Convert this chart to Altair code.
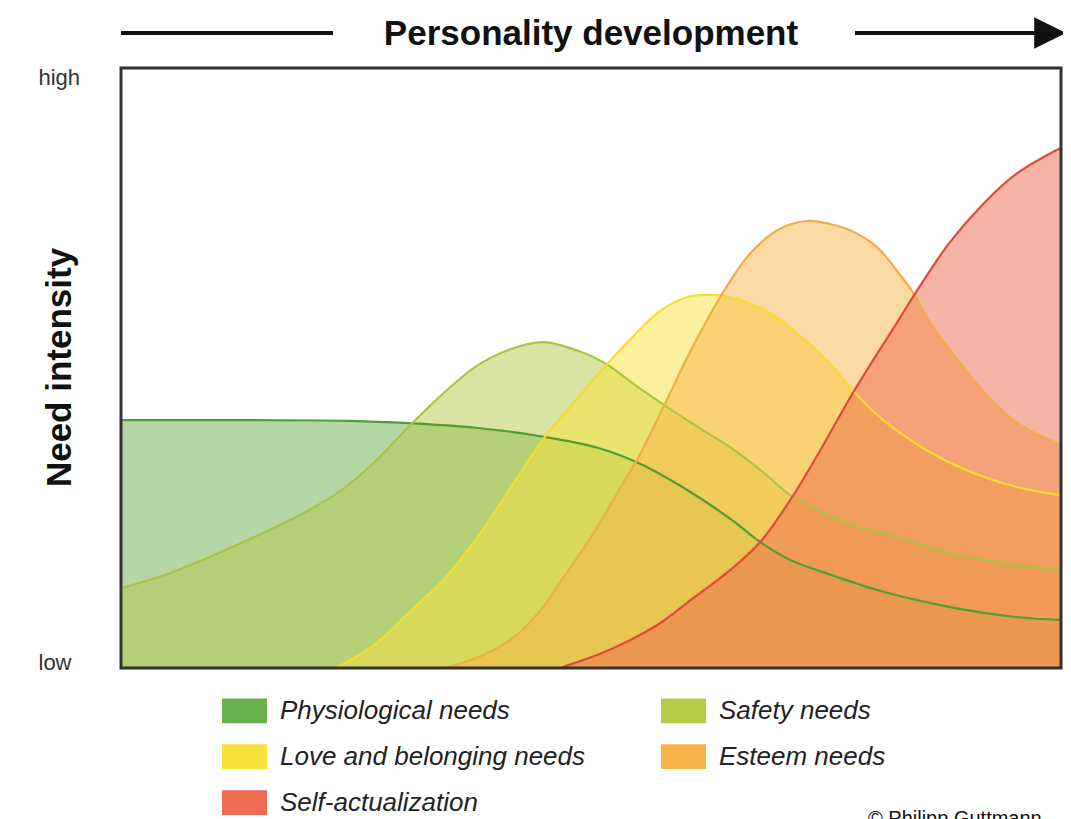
import altair as alt
import pandas as pd

# ---- categories & styling ----
needs = ["Physiological needs", "Safety needs", "Love and belonging needs",
         "Esteem needs", "Self-actualization"]
fill_colors = ["#6ab04c", "#b5cc4a", "#f7e23c", "#f7b44a", "#ee6a50"]
line_colors = ["#4e9e36", "#a9c445", "#f6dc2c", "#efae45", "#de4b3b"]

# ---- series (x: development 0-100, y: intensity 0-100) ----
physio_x = [0, 13.7, 24.3, 30.6, 38.0, 45.1, 50.7, 55.0, 58.5, 62.4, 65.3, 68.0,
            71.2, 74.1, 81.1, 88.1, 95.2, 100]
physio_y = [41.3, 41.3, 41.2, 40.8, 40.0, 38.5, 36.7, 34.2, 31.3, 27.5, 24.3, 21.0,
            18.0, 16.3, 12.7, 10.2, 8.5, 8.0]

safety_x = [0, 5.2, 9.4, 14.7, 20.0, 23.5, 27.1, 30.6, 34.1, 37.7, 41.2, 44.9, 48.9,
            51.5, 55.0, 57.8, 61.3, 64.8, 68.4, 71.2, 74.1, 78.3, 81.1, 88.1, 95.2, 100]
safety_y = [13.3, 15.8, 18.5, 22.2, 26.3, 29.7, 34.5, 40.2, 45.5, 50.2, 53.0, 54.3, 52.7,
            50.8, 46.8, 43.8, 40.2, 36.8, 32.5, 28.8, 26.3, 23.5, 22.5, 19.2, 17.2, 16.3]

love_x = [22.9, 26.9, 30.6, 34.3, 37.7, 41.2, 45.1, 48.6, 51.8, 54.5, 57.1, 60.0, 62.1,
          64.8, 68.4, 71.9, 75.4, 78.0, 81.1, 85.7, 89.9, 95.2, 100]
love_y = [0, 3.8, 9.2, 14.7, 21.3, 29.5, 38.5, 45.0, 50.8, 55.3, 59.2, 61.7, 62.2,
          61.8, 59.7, 55.8, 50.8, 46.0, 41.3, 36.3, 33.0, 30.2, 28.8]

esteem_x = [34.3, 38.0, 41.7, 44.7, 46.5, 50.0, 53.6, 55.0, 57.8, 60.0, 62.1, 64.2, 67.0,
            70.1, 73.0, 75.4, 77.5, 80.4, 82.5, 84.3, 86.4, 89.2, 92.8, 96.0, 100]
esteem_y = [0, 1.8, 5.0, 9.7, 13.8, 21.8, 31.3, 35.0, 43.8, 51.0, 57.3, 63.0, 69.2,
            73.2, 74.5, 74.0, 73.0, 70.2, 66.3, 62.5, 56.8, 51.0, 44.3, 40.2, 37.2]

selfact_x = [46.7, 50.7, 53.6, 57.1, 60.6, 64.8, 68.0, 71.2, 74.1, 78.0, 82.2, 84.6,
             88.1, 91.7, 95.2, 100]
selfact_y = [0, 2.2, 4.2, 7.2, 11.3, 16.3, 21.0, 28.0, 35.5, 46.2, 56.7, 62.7,
             70.8, 77.3, 82.3, 86.7]

series_x = [physio_x, safety_x, love_x, esteem_x, selfact_x]
series_y = [physio_y, safety_y, love_y, esteem_y, selfact_y]

FONT = "Liberation Sans"
W, H = 940, 600

xscale = alt.Scale(domain=[0, 100], nice=False, zero=False)
yscale = alt.Scale(domain=[0, 100], nice=False)
cscale = alt.Scale(domain=needs, range=fill_colors)

yaxis = alt.Axis(
    values=[1, 98.5],
    labelExpr="datum.value > 50 ? 'high' : 'low'",
    title="Need intensity",
    titleFont=FONT, titleFontSize=35, titleFontWeight="bold", titleColor="#111",
    titleAngle=-90, titleX=-62, titleY=299, titleAlign="center", titleBaseline="middle",
    domain=False, ticks=False, tickSize=0, grid=False,
    labelAlign="left", labelPadding=83, labelFontSize=22, labelColor="#333",
    labelFont=FONT,
)

legend = alt.Legend(
    title=None, orient="none", legendX=101, legendY=620, columns=2,
    direction="horizontal",
    symbolType="M-1,-0.55L1,-0.55L1,0.55L-1,0.55Z", symbolSize=2025,
    symbolStrokeWidth=0, symbolOpacity=1,
    labelFont=FONT, labelFontSize=26, labelFontStyle="italic", labelColor="#222",
    labelOffset=13, rowPadding=10, columnPadding=75, padding=0, labelLimit=0,
)

areas = []
lines = []
for i, name in enumerate(needs):
    df = pd.DataFrame({"dev": series_x[i], "intensity": series_y[i], "need": name})
    areas.append(
        alt.Chart(df).mark_area(interpolate="catmull-rom", fillOpacity=0.5,
                                strokeWidth=0, clip=True)
        .encode(
            x=alt.X("dev:Q", scale=xscale, axis=None),
            y=alt.Y("intensity:Q", scale=yscale, axis=yaxis),
            color=alt.Color("need:N", scale=cscale, legend=legend),
        )
    )
    lines.append(
        alt.Chart(df).mark_line(interpolate="catmull-rom", strokeWidth=2.2,
                                color=line_colors[i], clip=True)
        .encode(x=alt.X("dev:Q", scale=xscale), y=alt.Y("intensity:Q", scale=yscale))
    )

one = pd.DataFrame({"k": [0]})
border = alt.Chart(one).mark_rect(fillOpacity=0, stroke="#333", strokeWidth=3).encode(
    x=alt.value(0), x2=alt.value(W), y=alt.value(0), y2=alt.value(H))
rule_left = alt.Chart(one).mark_rule(strokeWidth=4, color="#111").encode(
    x=alt.value(0), x2=alt.value(212), y=alt.value(-35))
rule_right = alt.Chart(one).mark_rule(strokeWidth=4, color="#111").encode(
    x=alt.value(734), x2=alt.value(920), y=alt.value(-35))
arrow = alt.Chart(one).mark_point(
    shape="M-1,-1L1,0L-1,1Z", size=1000, filled=True, color="#111", opacity=1
).encode(x=alt.value(929), y=alt.value(-35))
title_txt = alt.Chart(one).mark_text(
    text="Personality development", align="center", baseline="alphabetic",
    fontSize=35, fontWeight="bold", font=FONT, color="#111"
).encode(x=alt.value(470), y=alt.value(-23))
copyright_txt = alt.Chart(one).mark_text(
    text="© Philipp Guttmann", align="left", baseline="middle", fontSize=20,
    font=FONT, color="#111"
).encode(x=alt.value(747), y=alt.value(751))

chart = alt.layer(
    *areas, *lines, border, rule_left, rule_right, arrow, title_txt, copyright_txt
).properties(
    width=W, height=H,
    autosize=alt.AutoSizeParams(type="none"),
    padding={"left": 113, "top": 60, "right": 2, "bottom": 155},
).configure(background="white").configure_view(strokeWidth=0)

chart.save("out.html", embed_options={"renderer": "svg", "actions": False})
